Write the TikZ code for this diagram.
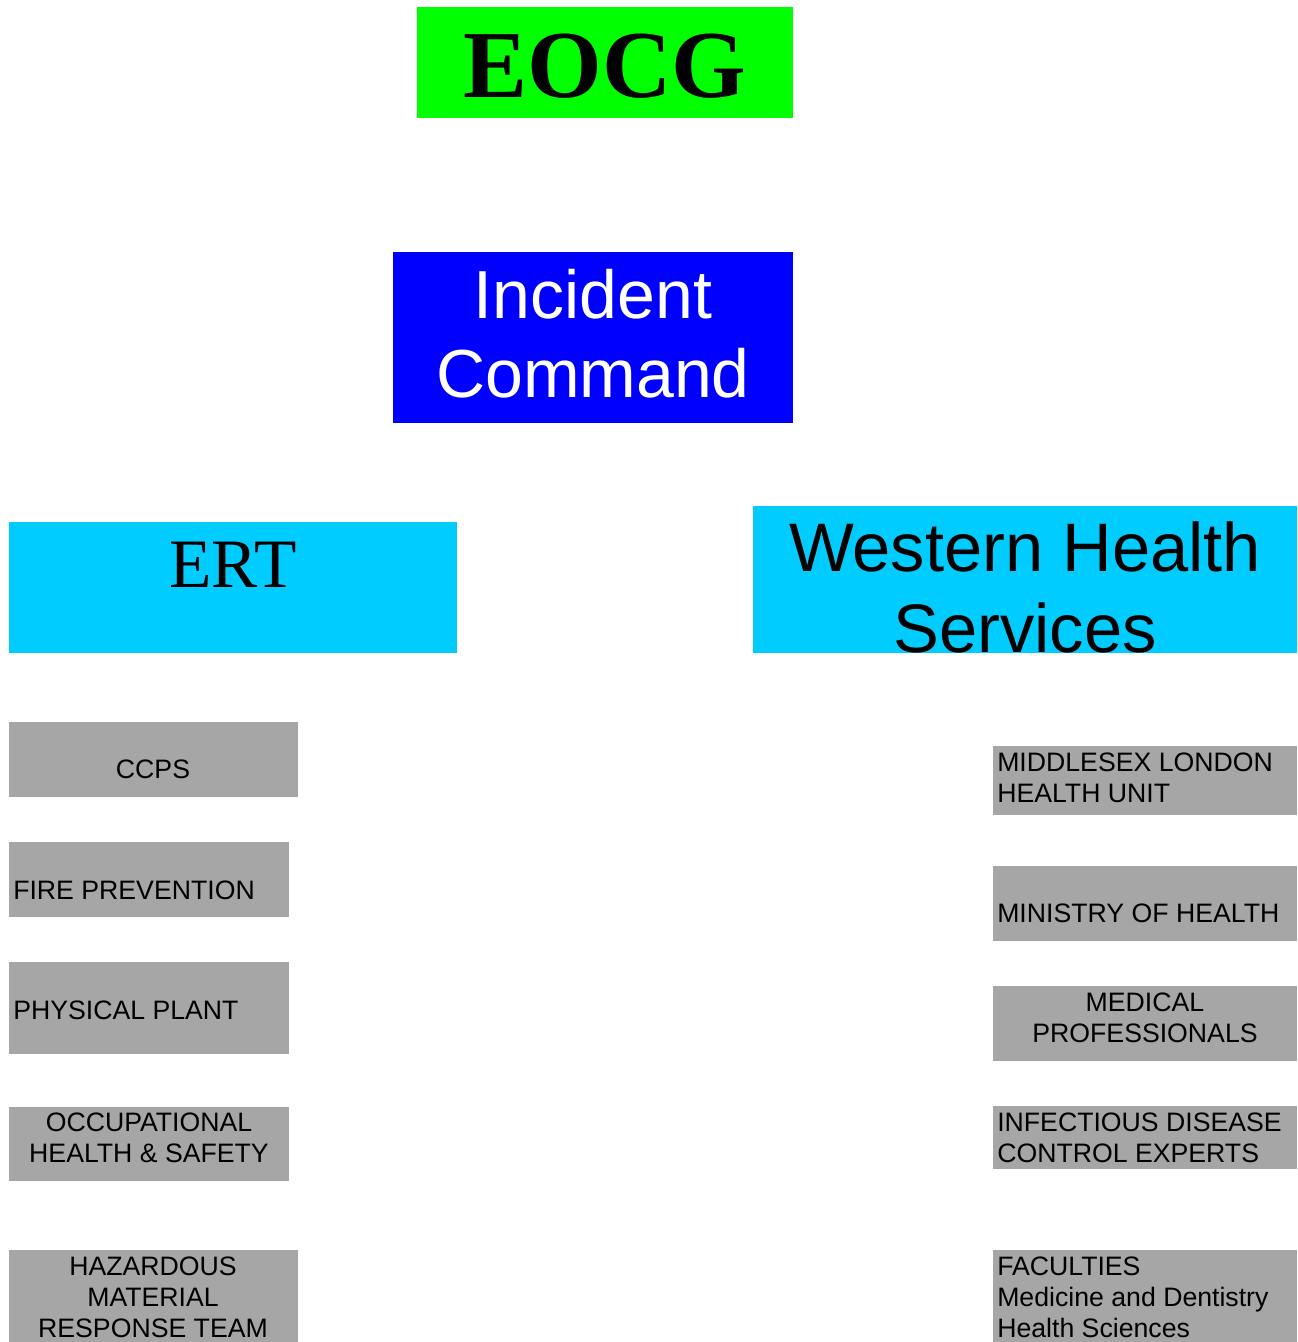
\documentclass[tikz,border=0pt]{standalone}
\usepackage{fontspec}
\setmainfont{Liberation Serif}
\setsansfont{Liberation Sans}
\definecolor{eocggreen}{RGB}{0,255,0}
\definecolor{cmdblue}{RGB}{0,0,255}
\definecolor{teamcyan}{RGB}{0,204,255}
\definecolor{unitgrey}{RGB}{166,166,166}

\begin{document}
\begin{tikzpicture}[x=0.75pt,y=0.75pt,yscale=-1,xscale=1,
  unitbox/.style={fill=unitgrey},
  unittext/.style={inner sep=0pt,font=\sffamily\fontsize{20}{23}\selectfont},
  bigsans/.style={inner sep=0pt,align=center,font=\sffamily\fontsize{51}{60}\selectfont}]
\useasboundingbox (0,0) rectangle (1297,1342);

%Shape: Rectangle [EOCG]
\fill [eocggreen] (417,7) rectangle (793,118) ;
%Shape: Rectangle [Incident Command]
\fill [cmdblue] (393,252) rectangle (793,423) ;
%Shape: Rectangle [ERT]
\fill [teamcyan] (9,522) rectangle (457,653) ;
%Shape: Rectangle [Western Health]
\fill [teamcyan] (753,506) rectangle (1297,653) ;

%Shape: Rectangle [ERT units]
\fill [unitbox] (9,722) rectangle (298,797) ;
\fill [unitbox] (9,842) rectangle (289,917) ;
\fill [unitbox] (9,962) rectangle (289,1054) ;
\fill [unitbox] (9,1107) rectangle (289,1181) ;
\fill [unitbox] (9,1250) rectangle (298,1342) ;
%Shape: Rectangle [health units]
\fill [unitbox] (993,746) rectangle (1297,815) ;
\fill [unitbox] (993,866) rectangle (1297,941) ;
\fill [unitbox] (993,986) rectangle (1297,1061) ;
\fill [unitbox] (993,1106) rectangle (1297,1169) ;
\fill [unitbox] (993,1250) rectangle (1297,1342) ;

% Text Node
\draw (605,97) node [anchor=base][inner sep=0pt] [font=\bfseries\fontsize{72}{80}\selectfont] (eocg) {EOCG};
% Text Node
\draw (593,397) node [anchor=base][bigsans,text=white,font=\sffamily\fontsize{51}{59.25}\selectfont] (incident) {Incident\\Command};
% Text Node
\draw (233,587) node [anchor=base][inner sep=0pt] [font=\fontsize{52}{60}\selectfont] (ert) {ERT};
% Text Node
\draw (1025,652) node [anchor=base][bigsans,font=\sffamily\fontsize{51.5}{60.75}\selectfont] (western) {Western Health\\Services};

% Text Node
\draw (153,778) node [anchor=base][unittext] (ccps) {CCPS};
% Text Node
\draw (13,899) node [anchor=base west][unittext] (fire) {FIRE PREVENTION};
% Text Node
\draw (13,1019) node [anchor=base west][unittext] (plant) {PHYSICAL PLANT};
% Text Node
\draw (149,1162) node [anchor=base][unittext,align=center] (ohs) {OCCUPATIONAL\\HEALTH \& SAFETY};
% Text Node
\draw (153,1337) node [anchor=base][unittext,align=center] (hazmat) {HAZARDOUS\\MATERIAL\\RESPONSE TEAM};

% Text Node
\draw (997,802) node [anchor=base west][unittext,align=left] (mlhu) {MIDDLESEX LONDON\\HEALTH UNIT};
% Text Node
\draw (997,922) node [anchor=base west][unittext] (ministry) {MINISTRY OF HEALTH};
% Text Node
\draw (1145,1042) node [anchor=base][unittext,align=center] (medical) {MEDICAL\\PROFESSIONALS};
% Text Node
\draw (997,1162) node [anchor=base west][unittext,align=left] (infection) {INFECTIOUS DISEASE\\CONTROL EXPERTS};
% Text Node
\draw (997,1337) node [anchor=base west][unittext,align=left] (faculties) {FACULTIES\\Medicine and Dentistry\\Health Sciences};
\end{tikzpicture}
\end{document}
